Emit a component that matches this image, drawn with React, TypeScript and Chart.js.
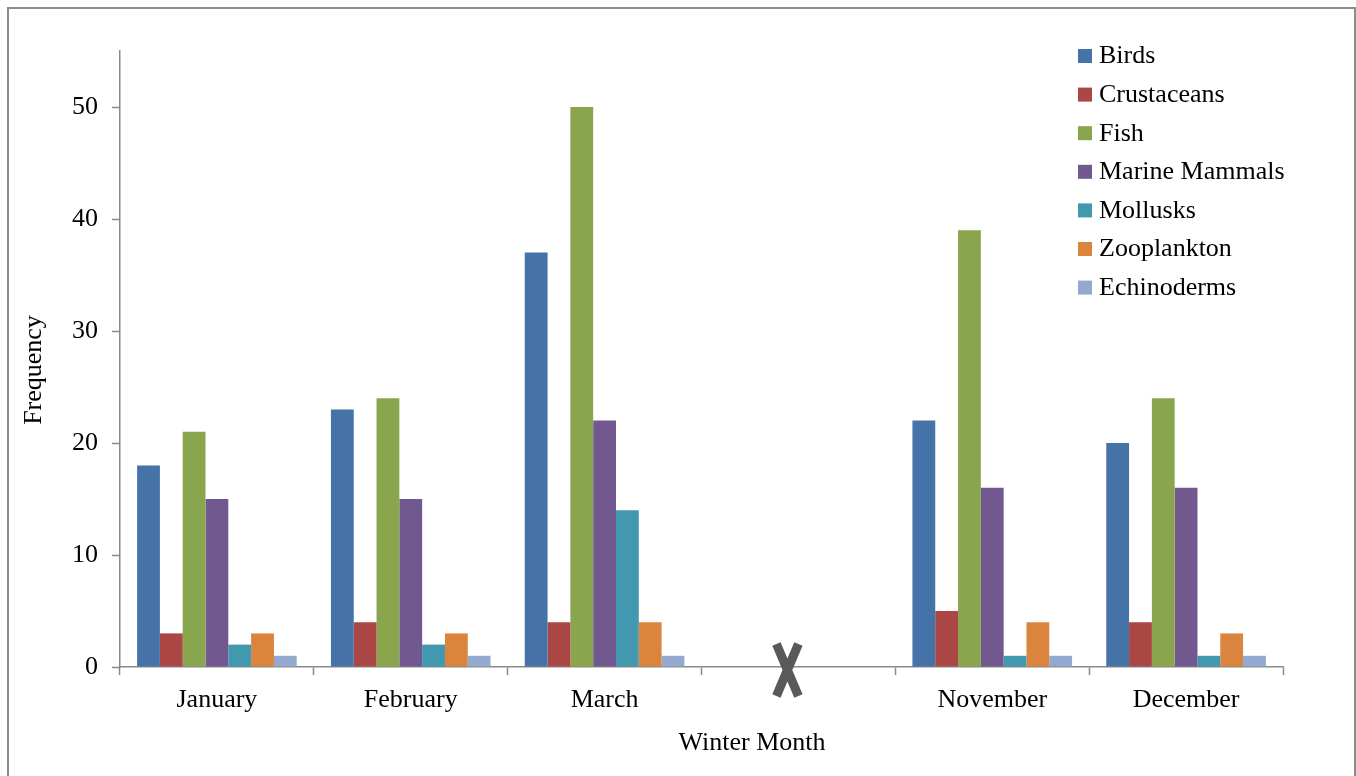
import React, { useEffect, useRef } from 'react';
import { Chart, registerables } from 'chart.js';

Chart.register(...registerables);

const categories = ['January', 'February', 'March', '', 'November', 'December'];
const seriesNames = ['Birds', 'Crustaceans', 'Fish', 'Marine Mammals', 'Mollusks', 'Zooplankton', 'Echinoderms'];
const seriesColors = ['#4572A7', '#AA4643', '#89A54E', '#71588F', '#4198AF', '#DB843D', '#93A9CF'];

const birds = [18, 23, 37, null, 22, 20];
const crustaceans = [3, 4, 4, null, 5, 4];
const fish = [21, 24, 50, null, 39, 24];
const marineMammals = [15, 15, 22, null, 16, 16];
const mollusks = [2, 2, 14, null, 1, 1];
const zooplankton = [3, 3, 4, null, 4, 3];
const echinoderms = [1, 1, 1, null, 1, 1];

const seriesValues = [birds, crustaceans, fish, marineMammals, mollusks, zooplankton, echinoderms];

const yMin = 0;
const yMax = 55;
const yStep = 10;
const xTitle = 'Winter Month';
const yTitle = 'Frequency';
const gapIndex = 3;

const FONT = '"Liberation Serif", "Times New Roman", serif';
const AXIS = '#8a8a8a';

export default function App() {
  const ref = useRef<HTMLCanvasElement>(null);

  useEffect(() => {
    document.body.style.margin = '0';
    const canvas = ref.current!;

    const decor = {
      id: 'decor',
      beforeDraw(chart: any) {
        const ctx = chart.ctx;
        ctx.save();
        ctx.fillStyle = '#ffffff';
        ctx.fillRect(0, 0, chart.width, chart.height);
        ctx.strokeStyle = '#8c8c8c';
        ctx.lineWidth = 2;
        ctx.strokeRect(8, 8, chart.width - 9, chart.height + 20);
        ctx.restore();
      },
      afterDraw(chart: any) {
        const ctx = chart.ctx;
        const xs = chart.scales.x;
        const area = chart.chartArea;
        ctx.save();
        // Break mark on the gap category
        const cx = xs.getPixelForValue(gapIndex) - 11;
        const cy = area.bottom + 3;
        ctx.strokeStyle = '#595959';
        ctx.lineWidth = 9;
        ctx.lineCap = 'butt';
        ctx.beginPath();
        ctx.moveTo(cx - 11, cy - 26);
        ctx.lineTo(cx + 11, cy + 26);
        ctx.moveTo(cx + 11, cy - 26);
        ctx.lineTo(cx - 11, cy + 26);
        ctx.stroke();

        // Legend
        ctx.font = `26px ${FONT}`;
        ctx.textAlign = 'left';
        ctx.textBaseline = 'alphabetic';
        const lx = area.right - 205;
        seriesNames.forEach((name, i) => {
          const base = 63.3 + i * 38.6;
          ctx.fillStyle = seriesColors[i];
          ctx.fillRect(lx, base - 14.3, 14, 14);
          ctx.fillStyle = '#000000';
          ctx.fillText(name, lx + 21, base);
        });

        // Axis titles
        ctx.fillStyle = '#000000';
        ctx.textAlign = 'center';
        ctx.fillText(xTitle, 752, 750);
        ctx.save();
        ctx.translate(41, 370);
        ctx.rotate(-Math.PI / 2);
        ctx.textBaseline = 'alphabetic';
        ctx.fillText(yTitle, 0, 0);
        ctx.restore();
        ctx.restore();
      },
    };

    const chart = new Chart(canvas, {
      type: 'bar',
      data: {
        labels: categories,
        datasets: seriesNames.map((name, i) => ({
          label: name,
          data: seriesValues[i],
          backgroundColor: seriesColors[i],
          borderWidth: 0,
          barPercentage: 1,
          categoryPercentage: 7 / 8.5,
        })),
      },
      options: {
        responsive: false,
        animation: false,
        devicePixelRatio: 1,
        layout: { padding: { left: 0, top: 51, right: 73, bottom: 0 } },
        plugins: {
          legend: { display: false },
          tooltip: { enabled: false },
          title: { display: false },
        },
        scales: {
          x: {
            afterFit(scale: any) {
              scale.height = 109;
            },
            grid: {
              display: true,
              drawOnChartArea: false,
              drawTicks: true,
              tickLength: 8,
              tickWidth: 1.5,
              color: AXIS,
              offset: true,
            },
            border: { display: true, color: AXIS, width: 1.5 },
            ticks: {
              color: '#000000',
              font: { family: FONT, size: 26 },
              padding: 10,
              maxRotation: 0,
              autoSkip: false,
            },
          },
          y: {
            min: yMin,
            max: yMax,
            afterFit(scale: any) {
              scale.width = 120;
            },
            grid: {
              display: true,
              drawOnChartArea: false,
              drawTicks: true,
              tickLength: 8,
              tickWidth: 1.5,
              color: AXIS,
            },
            border: { display: true, color: AXIS, width: 1.5 },
            ticks: {
              stepSize: yStep,
              includeBounds: false,
              color: '#000000',
              font: { family: FONT, size: 26 },
              padding: 14,
            },
          },
        },
      },
      plugins: [decor],
    });

    return () => chart.destroy();
  }, []);

  return (
    <canvas
      ref={ref}
      width={1356}
      height={776}
      style={{ display: 'block', width: 1356, height: 776 }}
    />
  );
}
